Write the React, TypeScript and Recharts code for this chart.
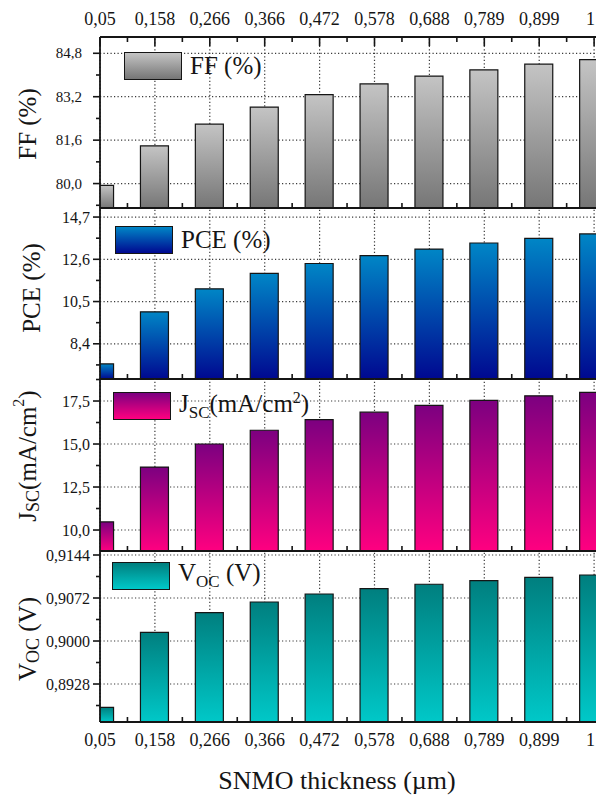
import React from 'react'
import { BarChart, Bar, XAxis, YAxis, ReferenceLine, Legend } from 'recharts'

const categories = ['0,05', '0,158', '0,266', '0,366', '0,472', '0,578', '0,688', '0,789', '0,899', '1']
const ffValues = [79.93, 81.39, 82.19, 82.82, 83.28, 83.67, 83.96, 84.19, 84.4, 84.57]
const pceValues = [7.4, 9.99, 11.13, 11.9, 12.39, 12.78, 13.11, 13.41, 13.64, 13.86]
const jscValues = [10.47, 13.66, 15.0, 15.8, 16.42, 16.85, 17.25, 17.54, 17.8, 18.0]
const vocValues = [0.8889, 0.90146, 0.90474, 0.90653, 0.90787, 0.90876, 0.9095, 0.9101, 0.91066, 0.91105]

const ffMajor = [80, 81.6, 83.2, 84.8]
const ffMinor = [79.2, 80.8, 82.4, 84.0]
const pceMajor = [8.4, 10.5, 12.6, 14.7]
const pceMinor = [7.35, 9.45, 11.55, 13.65]
const jscMajor = [10, 12.5, 15, 17.5]
const jscMinor = [11.25, 13.75, 16.25, 18.75]
const vocMajor = [0.8928, 0.9, 0.9072, 0.9144]
const vocMinor = [0.8892, 0.8964, 0.9036, 0.9108]

const rows = categories.map((c, i) => ({
  x: i,
  label: c,
  ff: ffValues[i],
  pce: pceValues[i],
  jsc: jscValues[i],
  voc: vocValues[i],
}))

const X_DOMAIN: [number, number] = [0, 9.2]
const xMajor = categories.map((_, i) => i)
const xMinor = categories.map((_, i) => i + 0.5).filter((v) => v < X_DOMAIN[1])
const STEP = 54.9

const SERIF = '"Liberation Serif", "DejaVu Serif", "Noto Serif", "Times New Roman", Times, serif'
const INK = '#151515'
const GRID = '#3a3a3a'
const W = 640
const H = 796

const fmt = (v: number, digits: number) => v.toFixed(digits).replace('.', ',')

function CatLabel({ x, y, v }: { x: number; y: number; v: number }) {
  // the last label sits on the picture's right edge
  const last = v === categories.length - 1
  return (
    <text
      x={last ? Math.min(x + 4, 595) : x}
      y={y}
      textAnchor={last ? 'end' : 'middle'}
      dominantBaseline="central"
      fontSize={18}
      fontFamily={SERIF}
      fill={INK}
    >
      {categories[v]}
    </text>
  )
}

function XTick(props: any) {
  const { x, y, payload, side, showLabel } = props
  const v = payload.value
  const major = Number.isInteger(v)
  // only the top frame shows major ticks; at the bottom they sit behind the bars
  if (side === 'bottom' && major) {
    return showLabel ? <CatLabel x={x} y={y + 18} v={v} /> : <g />
  }
  const dir = side === 'top' ? 1 : -1
  const len = major ? 9 : 5
  return (
    <g>
      <line x1={x} x2={x} y1={y} y2={y + dir * len} stroke={INK} strokeWidth={1.6} />
      {showLabel && major && <CatLabel x={x} y={y - 18} v={v} />}
    </g>
  )
}

function YTick(props: any) {
  const { x, y, payload, major, digits, fontSize, gap } = props
  const v = payload.value
  const isMajor = major.some((m: number) => Math.abs(m - v) < 1e-9)
  return (
    <g>
      <line x1={x} x2={x - (isMajor ? 7 : 4)} y1={y} y2={y} stroke={INK} strokeWidth={1.6} />
      {isMajor && (
        <text x={x - gap} y={y} textAnchor="end" dominantBaseline="central" fontSize={fontSize} fontFamily={SERIF} fill={INK}>
          {fmt(v, digits)}
        </text>
      )}
    </g>
  )
}

function LegendBox({ from, to, children }: { from: string; to: string; children: React.ReactNode }) {
  return (
    <div style={{ display: 'flex', alignItems: 'center', fontFamily: SERIF, fontSize: 25, color: INK, whiteSpace: 'nowrap' }}>
      <div
        style={{
          width: 58,
          height: 28,
          boxSizing: 'border-box',
          border: `1px solid ${INK}`,
          background: `linear-gradient(${from}, ${to})`,
          marginRight: 8,
        }}
      />
      <span>{children}</span>
    </div>
  )
}

type PanelProps = {
  dataKey: string
  top: number
  bottom: number
  domain: [number, number]
  major: number[]
  minor: number[]
  digits: number
  tickFont: number
  tickGap: number
  from: string
  to: string
  legend: React.ReactNode
  legendPos: { left: number; top: number }
  title: React.ReactNode
  titlePos: [number, number]
  topAxis?: boolean
  bottomLabels?: boolean
}

function Panel(p: PanelProps) {
  const gid = `grad-${p.dataKey}`
  const [tx, ty] = p.titlePos
  return (
    <div style={{ position: 'absolute', left: 0, top: 0 }}>
      <BarChart
        width={W}
        height={H}
        data={rows}
        margin={{
          top: p.topAxis ? p.top - 1 : p.top,
          bottom: H - p.bottom - 1,
          left: 0,
          right: W - 100 - STEP * X_DOMAIN[1],
        }}
      >
        <defs>
          <linearGradient id={gid} x1="0" y1="0" x2="0" y2="1">
            <stop offset="0%" stopColor={p.from} />
            <stop offset="100%" stopColor={p.to} />
          </linearGradient>
        </defs>
        {p.major.map((v) => (
          <ReferenceLine key={`h${v}`} y={v} stroke={GRID} strokeWidth={1.2} strokeDasharray="1.2 2.3" zIndex={-100} />
        ))}
        {xMajor.map((v) => (
          <ReferenceLine key={`v${v}`} x={v} stroke={GRID} strokeWidth={1.2} strokeDasharray="1.2 2.3" zIndex={-100} />
        ))}
        <XAxis
          dataKey="x"
          type="number"
          domain={X_DOMAIN}
          allowDataOverflow
          ticks={[...xMajor, ...xMinor]}
          interval={0}
          height={1}
          tickSize={0}
          tickMargin={0}
          axisLine={{ stroke: INK, strokeWidth: 1.8 }}
          tick={(t: any) => <XTick {...t} side="bottom" showLabel={!!p.bottomLabels} />}
        />
        {p.topAxis && (
          <XAxis
            xAxisId="top"
            orientation="top"
            dataKey="x"
            type="number"
            domain={X_DOMAIN}
            allowDataOverflow
            ticks={[...xMajor, ...xMinor]}
            interval={0}
            height={1}
            tickSize={0}
            tickMargin={0}
            axisLine={{ stroke: INK, strokeWidth: 1.8 }}
            tick={(t: any) => <XTick {...t} side="top" showLabel />}
          />
        )}
        <YAxis
          type="number"
          domain={p.domain}
          allowDataOverflow
          ticks={[...p.minor, ...p.major].sort((a, b) => a - b)}
          interval={0}
          width={100}
          tickSize={0}
          tickMargin={0}
          axisLine={{ stroke: INK, strokeWidth: 1.8 }}
          tick={(t: any) => (
            <YTick {...t} major={p.major} digits={p.digits} fontSize={p.tickFont} gap={p.tickGap} />
          )}
          label={{
            content: () => (
              <text
                x={tx}
                y={ty}
                transform={`rotate(-90, ${tx}, ${ty})`}
                textAnchor="middle"
                dominantBaseline="central"
                fontSize={25}
                fontFamily={SERIF}
                fill={INK}
              >
                {p.title}
              </text>
            ),
          }}
        />
        <Legend
          layout="vertical"
          align="center"
          verticalAlign="middle"
          wrapperStyle={{ left: p.legendPos.left, top: p.legendPos.top, width: 'auto' }}
          content={() => <LegendBox from={p.from} to={p.to}>{p.legend}</LegendBox>}
        />
        <Bar
          dataKey={p.dataKey}
          fill={`url(#${gid})`}
          stroke={INK}
          strokeWidth={1.2}
          barSize={28}
          isAnimationActive={false}
        />
      </BarChart>
    </div>
  )
}

export default function App() {
  return (
    <div
      style={{
        position: 'fixed',
        left: 0,
        top: 0,
        width: 596,
        height: 796,
        overflow: 'hidden',
        background: '#fff',
      }}
    >
      <Panel
        dataKey="ff"
        top={37}
        bottom={208}
        domain={[79.1, 85.4]}
        major={ffMajor}
        minor={ffMinor}
        digits={1}
        tickFont={15}
        tickGap={18}
        from="#c4c4c4"
        to="#767676"
        legend="FF (%)"
        legendPos={{ left: 124, top: 52 }}
        title="FF (%)"
        titlePos={[27, 124]}
        topAxis
      />
      <Panel
        dataKey="pce"
        top={208}
        bottom={379}
        domain={[6.65, 15.15]}
        major={pceMajor}
        minor={pceMinor}
        digits={1}
        tickFont={16}
        tickGap={10}
        from="#0086c6"
        to="#000890"
        legend="PCE (%)"
        legendPos={{ left: 115, top: 226 }}
        title="PCE (%)"
        titlePos={[31, 288]}
      />
      <Panel
        dataKey="jsc"
        top={379}
        bottom={551}
        domain={[8.78, 18.78]}
        major={jscMajor}
        minor={jscMinor}
        digits={1}
        tickFont={16}
        tickGap={10}
        from="#7c0080"
        to="#ff0080"
        legend={
          <>
            J<sub style={{ fontSize: 17 }}>SC</sub>(mA/cm<sup style={{ fontSize: 16 }}>2</sup>)
          </>
        }
        legendPos={{ left: 113, top: 389 }}
        title={
          <>
            J<tspan fontSize={18} dy={6}>SC</tspan>
            <tspan dy={-6}>(mA/cm</tspan>
            <tspan fontSize={16} dy={-9}>2</tspan>
            <tspan dy={9}>)</tspan>
          </>
        }
        titlePos={[27, 456]}
      />
      <Panel
        dataKey="voc"
        top={551}
        bottom={722}
        domain={[0.88644, 0.91507]}
        major={vocMajor}
        minor={vocMinor}
        digits={4}
        tickFont={16}
        tickGap={10}
        from="#007f7f"
        to="#00c8c8"
        legend={
          <>
            V<sub style={{ fontSize: 17 }}>OC</sub> (V)
          </>
        }
        legendPos={{ left: 112, top: 559 }}
        title={
          <>
            V<tspan fontSize={18} dy={6}>OC</tspan>
            <tspan dy={-6}> (V)</tspan>
          </>
        }
        titlePos={[27, 639]}
        bottomLabels
      />
      <div
        style={{
          position: 'absolute',
          left: 0,
          width: 674,
          top: 766,
          textAlign: 'center',
          fontFamily: SERIF,
          fontSize: 26,
          color: INK,
          whiteSpace: 'nowrap',
        }}
      >
        SNMO thickness (µm)
      </div>
    </div>
  )
}
